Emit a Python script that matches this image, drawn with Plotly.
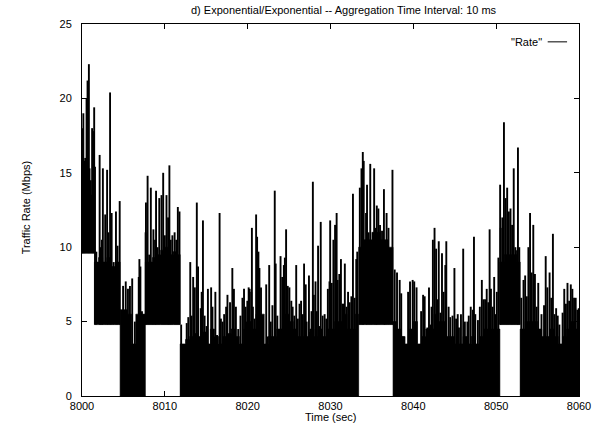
import plotly.graph_objects as go

T0 = 8000  # seconds; all times below are offsets from T0

# Segments of the trace and their floor (minimum) rate in Mbps
seg_edges = [0, 1.5, 4.6, 7.65, 11.85, 33.4, 37.55, 50.45, 52.9, 60]
seg_floor = [9.6, 4.8, 0, 4.8, 0, 4.8, 0, 4.8, 0]

# Dense "body" level of the rate (step values)
body_time = [0.0, 0.5, 1.0, 1.5, 2.0, 2.5, 3.0, 3.5, 4.0, 4.6, 5.0, 5.5, 6.0, 6.5, 7.0,
             7.65, 8.0, 8.5, 9.0, 9.5, 10.0, 10.5, 11.0, 11.5, 11.85, 12.5, 13.0, 13.5,
             14.0, 14.5, 15.0, 15.5, 16.0, 16.5, 17.0, 17.5, 18.0, 18.5, 19.0, 19.5,
             20.0, 20.5, 21.0, 21.5, 22.0, 22.5, 23.0, 23.5, 24.0, 24.5, 25.0, 25.5,
             26.0, 26.5, 27.0, 27.5, 28.0, 28.5, 29.0, 29.5, 30.0, 30.5, 31.0, 31.5,
             32.0, 32.5, 33.0, 33.4, 34.0, 34.5, 35.0, 35.5, 36.0, 36.5, 37.0, 37.55,
             38.0, 38.5, 39.0, 39.5, 40.0, 40.5, 41.0, 41.5, 42.0, 42.5, 43.0, 43.5,
             44.0, 44.5, 45.0, 45.5, 46.0, 46.5, 47.0, 47.5, 48.0, 48.5, 49.0, 49.5,
             50.0, 50.45, 51.0, 51.5, 52.0, 52.5, 52.9, 53.5, 54.0, 54.5, 55.0, 55.5,
             56.0, 56.5, 57.0, 57.5, 58.0, 58.5, 59.0, 59.5]
body_rate = [14.5, 14, 13.5, 9.0, 9.3, 9.0, 9.3, 8.7, 9.0, 5.8, 5.8, 5.5, 3.5, 5.5, 5.5,
             9.0, 9.0, 9.3, 9.5, 9.8, 10.0, 9.5, 9.7, 9.5, 3.5, 3.8, 4, 4.2,
             4, 4.3, 3.5, 4.5, 4, 3.5, 4, 4.2, 4.5, 4, 3.5, 4.5,
             5, 4.5, 5.5, 5.5, 3.5, 4, 4, 4.5, 4.5, 5.5, 5, 4.5,
             4, 4, 4, 4.5, 4, 4.5, 4, 4.5, 4.5, 5, 5, 5.5,
             4.5, 4.5, 5.5, 10, 10.5, 10.5, 11, 11, 10.5, 10.5, 10, 5,
             4.5, 4, 3.5, 4.5, 5, 3.5, 4, 4.5, 4.5, 5.5, 5, 5,
             4, 4, 3.5, 3.5, 4, 3.5, 4, 3.5, 4, 4.5, 4.5, 4.5,
             4.5, 9.0, 9.5, 9.5, 9.5, 9.0, 4.5, 5, 5, 5, 4.5, 4,
             4, 4.5, 4, 3.5, 4, 4.5, 5, 4.5]

# Individual 10 ms peaks (time offset, rate in Mbps)
spike_time = [0.04, 0.16, 0.28, 0.39, 0.55, 0.67, 0.83, 0.91, 1.06, 1.22, 1.34, 1.47,
              1.57, 1.73, 2.13, 2.24, 2.40, 2.52, 2.80, 3.03, 3.19, 3.39, 3.58, 3.82,
              4.10, 4.29, 4.55, 4.96, 5.28, 5.55, 5.79, 6.06, 6.38, 6.85, 6.93, 7.05,
              7.24, 7.48, 7.68, 7.72, 7.92, 8.11, 8.31, 8.50, 8.62, 8.82, 8.94, 9.13,
              9.33, 9.60, 9.80, 10.00, 10.20, 10.39, 10.55, 10.71, 10.91, 11.18, 11.38,
              11.57, 11.77, 11.97, 12.64, 12.83, 13.07, 13.23, 13.42, 13.62, 13.86,
              14.01, 14.33, 14.45, 14.60, 14.80, 15.04, 15.20, 15.59, 15.75, 16.10,
              16.30, 16.61, 16.77, 16.97, 17.16, 17.40, 17.56, 17.87, 18.15, 18.34,
              18.58, 18.86, 19.13, 19.37, 19.56, 19.76, 19.84, 19.96, 20.12, 20.24,
              20.43, 20.51, 20.63, 20.82, 21.02, 21.14, 21.30, 21.42, 21.61, 21.81,
              22.24, 22.40, 22.60, 22.79, 22.99, 23.27, 23.38, 23.58, 23.97, 24.17,
              24.37, 24.49, 24.64, 24.84, 25.04, 25.27, 25.43, 25.63, 25.86, 26.06,
              26.26, 26.45, 26.65, 26.81, 27.01, 27.12, 27.40, 27.52, 27.71, 27.87,
              27.99, 28.19, 28.35, 28.50, 28.70, 28.82, 29.05, 29.29, 29.49, 29.68,
              29.88, 29.96, 30.15, 30.35, 30.55, 30.74, 30.86, 31.06, 31.26, 31.45,
              31.57, 31.73, 31.93, 32.12, 32.32, 32.52, 32.71, 32.91, 33.11, 33.23,
              33.54, 33.74, 33.90, 34.01, 34.29, 34.41, 34.60, 34.80, 35.00, 35.27,
              35.47, 35.59, 35.78, 35.98, 36.22, 36.45, 36.57, 36.77, 37.00, 37.24,
              37.48, 37.75, 38.03, 38.35, 38.54, 38.74, 39.37, 39.60, 39.92, 40.11,
              40.39, 40.94, 41.18, 41.37, 41.69, 41.89, 42.08, 42.20, 42.36, 42.56,
              42.75, 42.95, 43.07, 43.27, 43.46, 43.66, 43.86, 43.98, 44.26, 44.45,
              44.73, 44.96, 45.16, 45.36, 45.51, 45.75, 46.02, 46.22, 46.53, 46.69,
              46.93, 47.20, 47.32, 47.48, 47.80, 48.03, 48.27, 48.46, 48.66, 48.86,
              49.05, 49.21, 49.37, 49.57, 49.76, 49.96, 50.08, 50.27, 50.48, 50.55,
              50.74, 50.94, 51.14, 51.33, 51.53, 51.73, 51.92, 52.12, 52.32, 52.52,
              52.63, 52.79, 53.03, 53.30, 53.50, 53.70, 53.89, 54.09, 54.29, 54.48,
              54.68, 54.88, 55.08, 55.47, 55.78, 55.98, 56.18, 56.45, 56.65, 56.85,
              57.04, 57.24, 57.43, 57.63, 58.02, 58.22, 58.42, 58.61, 58.81, 59.01,
              59.20, 59.40, 59.60, 59.80, 59.97]
spike_rate = [18, 19, 15.8, 16, 20, 21.2, 22.3, 15.3, 14.5, 18, 17.8, 19.4,
              15.4, 9.7, 16.2, 10, 10.5, 15.3, 12.2, 15.2, 11, 20.4, 12.3, 9,
              12.4, 10.1, 13.1, 7.4, 7.7, 7.2, 7.4, 7.9, 5, 8, 9.2, 8.7,
              5.7, 5.5, 11, 13, 14.8, 9.5, 14, 8, 11.2, 10.5, 13.8, 10,
              13.3, 13.5, 15, 10.8, 13.5, 12, 15.5, 10.5, 10.8, 11, 10.5,
              12.7, 12.4, 4.8, 4.9, 5.3, 9, 5.4, 8, 7.3, 13,
              8.7, 5.9, 7, 11.8, 5.4, 4.7, 7.2, 7.3, 6, 7,
              4.1, 12.3, 5.2, 5, 5.5, 6, 6.8, 6.3, 8.6, 7.2,
              6, 4.5, 5.4, 6.6, 7.2, 6, 5, 6.4, 7.3, 7.2,
              7, 11.3, 6, 5.2, 12.2, 10.7, 9.7, 8.6, 7.3, 4.7,
              7.5, 4, 8.8, 5, 6.1, 13.8, 8.9, 5.4, 9.4, 8,
              8.8, 9.3, 11.2, 7.4, 7.3, 6.4, 6, 5.4, 8.8, 5.2,
              6.2, 6.4, 5.5, 8.9, 7.5, 5, 8.1, 4.3, 5.7, 14.4,
              6.8, 7.7, 5.7, 10.1, 4.7, 11.7, 5.4, 5.5, 5.2, 7.2,
              7.7, 11.8, 7.6, 10.5, 11.5, 12.3, 7.8, 8.2, 9.2, 6.2,
              6.2, 8.9, 6, 7, 6.3, 6.7, 13.6, 6.6, 9.2, 9.7,
              14, 15.3, 16.4, 15.8, 12.3, 14.2, 11, 15.6, 10.3, 15.3,
              11.3, 12.8, 12.6, 11.5, 11.1, 13.9, 10, 12.3, 11.3, 9.8,
              15.2, 8.5, 8.3, 7.8, 6.9, 4, 7, 7.7, 7.8, 7.7,
              7.3, 5.7, 6.8, 6.7, 4.6, 7.3, 4.8, 6, 10.5, 11.3,
              9.9, 6.5, 10.4, 5.6, 9.6, 7, 8.8, 10.4, 6, 5.3,
              5.4, 8.6, 5.2, 5.5, 4.6, 5.5, 9.9, 5, 5, 5.4,
              6, 5.8, 10.7, 5.5, 5.1, 6, 7.8, 6.5, 6.5, 7.2,
              6.3, 11.2, 7.2, 6, 8, 5.5, 7, 9.3, 14.2, 11.3,
              12, 18.4, 13.3, 14, 12.4, 12.6, 11.5, 15.3, 10, 9.8,
              16.7, 10, 6.6, 7.8, 8.1, 6.7, 10, 12.3, 8.3, 11.5,
              8.2, 6, 7.6, 5.5, 6.1, 9.4, 7.3, 8.3, 6.6, 10.9,
              5.5, 5.9, 5.4, 4.8, 5.6, 7.2, 6.2, 7.6, 6.4, 7.5,
              7.2, 6.6, 6.6, 5.8, 5.9]

x_ticks = [8000, 8010, 8020, 8030, 8040, 8050, 8060]
y_ticks = [0, 5, 10, 15, 20, 25]

FONT = "Liberation Sans, Arial, Helvetica, sans-serif"


def floor_at(t):
    for i, fl in enumerate(seg_floor):
        if seg_edges[i] <= t < seg_edges[i + 1]:
            return fl
    return seg_floor[-1]


fig = go.Figure()

# Solid body of the trace, one closed polygon per segment
for i, fl in enumerate(seg_floor):
    a, b = seg_edges[i], seg_edges[i + 1]
    start_idx = max(k for k, t in enumerate(body_time) if t <= a)
    xs = [T0 + a]
    ys = [body_rate[start_idx]]
    for k, t in enumerate(body_time):
        if a < t < b:
            xs.append(T0 + t)
            ys.append(body_rate[k])
    xs += [T0 + b, T0 + b, T0 + a, T0 + a]
    ys += [ys[-1], fl, fl, ys[0]]
    fig.add_trace(go.Scatter(
        x=xs, y=ys, mode="lines", fill="toself", fillcolor="black",
        line=dict(color="black", width=0.6, shape="hv"),
        hoverinfo="skip", showlegend=False))

# Peaks (10 ms samples standing out of the body)
sx, sy = [], []
for t, v in zip(spike_time, spike_rate):
    sx += [T0 + t, T0 + t, None]
    sy += [floor_at(t), v, None]
fig.add_trace(go.Scatter(x=sx, y=sy, mode="lines",
                         line=dict(color="black", width=1.9),
                         hoverinfo="skip", showlegend=False))

axis_common = dict(showgrid=False, zeroline=False, showline=True,
                   linecolor="black", linewidth=1, mirror="allticks",
                   ticks="inside", ticklen=5, tickcolor="black", tickwidth=1,
                   tickfont=dict(family=FONT, size=11, color="black"))

fig.update_xaxes(range=[8000, 8060], tickvals=x_ticks,
                 ticktext=[str(v) for v in x_ticks], ticklabelstandoff=0,
                 **axis_common)
fig.update_yaxes(range=[0, 25], tickvals=y_ticks,
                 ticktext=[str(v) for v in y_ticks], ticklabelstandoff=7,
                 **axis_common)

ann_font = dict(family=FONT, size=11, color="black")
fig.update_layout(
    width=603, height=424,
    margin=dict(l=82, r=13, t=24, b=28),
    paper_bgcolor="white", plot_bgcolor="white",
    showlegend=False,
    font=dict(family=FONT, size=11, color="black"),
    annotations=[
        dict(text="d) Exponential/Exponential -- Aggregation Time Interval: 10 ms",
             xref="paper", yref="paper", x=0.5276, y=1.0376,
             xanchor="center", yanchor="middle", showarrow=False, font=ann_font),
        dict(text="Time (sec)", xref="paper", yref="paper", x=0.502, y=-0.057,
             xanchor="center", yanchor="middle", showarrow=False, font=ann_font),
        dict(text="Traffic Rate (Mbps)", xref="paper", yref="paper",
             x=-0.112, y=0.508, textangle=-90,
             xanchor="center", yanchor="middle", showarrow=False, font=ann_font),
        dict(text='"Rate"', xref="paper", yref="paper", x=0.929, y=0.952,
             xanchor="right", yanchor="middle", showarrow=False, font=ann_font),
    ],
    shapes=[dict(type="line", xref="paper", yref="paper",
                 x0=0.937, x1=0.976, y0=0.952, y1=0.952,
                 line=dict(color="black", width=1))],
)

fig.write_html("out.html")
